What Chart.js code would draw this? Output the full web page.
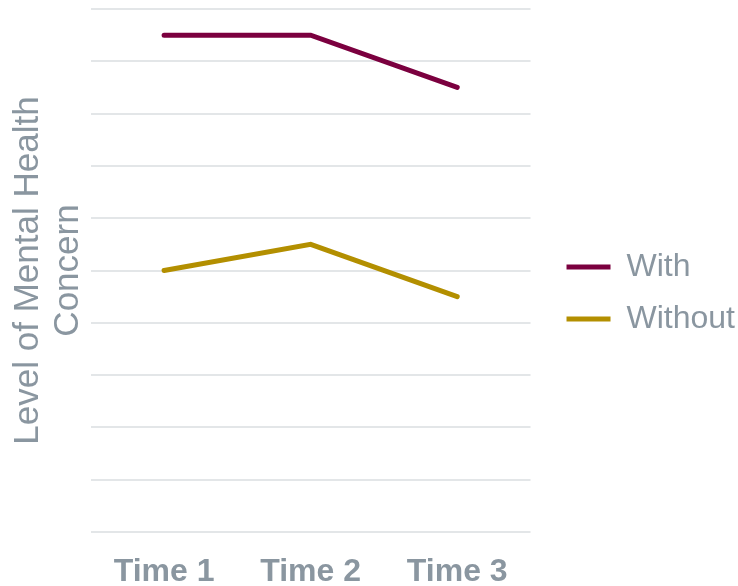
<!DOCTYPE html>
<html>
<head>
<meta charset="utf-8">
<script src="https://cdn.jsdelivr.net/npm/chart.js@4"></script>
<style>
    html, body { margin: 0; padding: 0; background: #ffffff; }
    #wrap { width: 738px; height: 586px; }
</style>
</head>
<body>
<div id="wrap"><canvas id="concernChart"></canvas></div>
<script>
// chart data
const timeLabels = ["Time 1", "Time 2", "Time 3"];
const withValues = [9.5, 9.5, 8.5];
const withoutValues = [5.0, 5.5, 4.5];
const yTitleLines = ["Level of Mental Health", "Concern"];

const textGray = "#8a96a0";
const fontFamily = "Liberation Sans, Arial, sans-serif";

// the layout caps a side legend at a quarter of the width, give it a bit more room
const legendRoom = {
    id: "legendRoom",
    beforeInit(chart) {
        const legend = chart.legend;
        const update = legend.update;
        legend.update = function (maxWidth, maxHeight, margins) {
            update.call(this, Math.max(maxWidth, 220), maxHeight, margins);
        };
    }
};

const ctx = document.getElementById("concernChart").getContext("2d");

new Chart(ctx, {
    type: "line",
    data: {
        labels: timeLabels,
        datasets: [
            {
                label: "With",
                data: withValues,
                borderColor: "#7b003f",
                backgroundColor: "#7b003f",
                borderWidth: 5,
                borderCapStyle: "round",
                pointRadius: 0,
                tension: 0
            },
            {
                label: "Without",
                data: withoutValues,
                borderColor: "#b38f00",
                backgroundColor: "#b38f00",
                borderWidth: 5,
                borderCapStyle: "round",
                pointRadius: 0,
                tension: 0
            }
        ]
    },
    options: {
        responsive: true,
        maintainAspectRatio: false,
        animation: false,
        layout: { padding: { top: 0, left: 0, right: -7, bottom: 0 } },
        plugins: {
            tooltip: { enabled: false },
            // no chart title, just a thin empty strip above the plot
            title: {
                display: true,
                text: "",
                padding: 0,
                font: { size: 9, lineHeight: 1 }
            },
            legend: {
                position: "right",
                align: "center",
                labels: {
                    usePointStyle: true,
                    pointStyle: "line",
                    pointStyleWidth: 44,
                    padding: 20,
                    color: textGray,
                    font: { family: fontFamily, size: 32 }
                }
            }
        },
        scales: {
            x: {
                offset: true,
                grid: { display: false },
                border: { display: false },
                ticks: {
                    color: textGray,
                    padding: 29,
                    font: { family: fontFamily, size: 32, weight: "bold", lineHeight: 0.1875 }
                },
                afterFit(scale) { scale.height = 54; }
            },
            y: {
                min: 0,
                max: 10,
                grid: { color: "#e3e6e8", lineWidth: 2, drawTicks: false },
                border: { display: false },
                ticks: { display: false, stepSize: 1 },
                title: {
                    display: true,
                    text: yTitleLines,
                    color: textGray,
                    padding: { top: 8, bottom: 3 },
                    font: { family: fontFamily, size: 35, lineHeight: 1.14 }
                }
            },
            // empty right axis, only keeps a gap between plot and legend
            gap: {
                position: "right",
                grid: { display: false },
                border: { display: false },
                ticks: { display: false },
                afterFit(scale) { scale.width = 16; }
            }
        }
    },
    plugins: [legendRoom]
});
</script>
</body>
</html>
